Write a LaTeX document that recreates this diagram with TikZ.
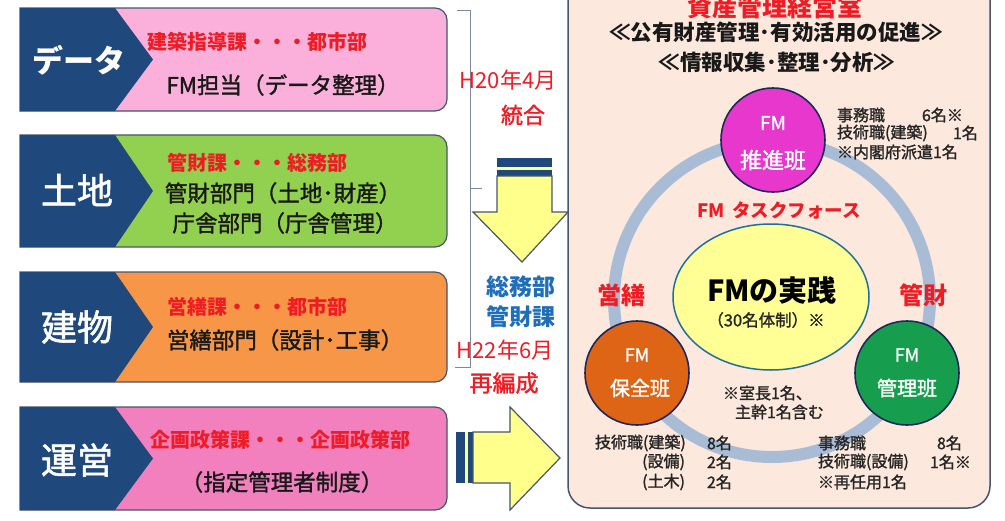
\documentclass[tikz,border=0pt]{standalone}
\usepackage{fontspec}
\setmainfont{Noto Sans CJK JP}
\newfontfamily\medf{Noto Sans CJK JP}[FakeBold=1.5]
\definecolor{navy}{RGB}{31,73,125}
\definecolor{pkA}{RGB}{250,176,218}
\definecolor{grn}{RGB}{146,208,80}
\definecolor{org}{RGB}{247,150,70}
\definecolor{pkB}{RGB}{242,128,190}
\definecolor{edgec}{RGB}{70,85,110}
\definecolor{peach}{RGB}{252,232,220}
\definecolor{ringc}{RGB}{168,188,214}
\definecolor{yel}{RGB}{255,255,150}
\definecolor{arry}{RGB}{255,255,140}
\definecolor{mag}{RGB}{232,55,205}
\definecolor{cor}{RGB}{222,100,22}
\definecolor{cgr}{RGB}{22,158,78}
\definecolor{tred}{RGB}{238,28,36}
\definecolor{tblue}{RGB}{30,110,185}
\definecolor{ylb}{RGB}{30,110,160}
\definecolor{circb}{RGB}{30,40,90}
\tikzset{
  every node/.style={inner sep=0pt, outer sep=0pt},
  fsz/.style={font=\fontsize{#1}{#1}\selectfont},
  fszb/.style={font=\fontsize{#1}{#1}\selectfont\bfseries},
  fszm/.style={font=\fontsize{#1}{#1}\medf},
  lbl/.style={text=white, fszm=36},
  redt/.style={text=tred, fszb=20},
  blkt/.style={text=black!90, fszm=22.5},
  listt/.style={text=black!85, fszm=16},
  whitet/.style={text=white},
  bigarrow/.style={fill=arry, draw=edgec, line width=1.2pt, line join=miter},
  team/.style={circle, minimum size=104pt, draw=circb, line width=1.6pt},
}
\newcommand{\rowbox}[3]{%
  \draw[edgec, line width=1.2pt, fill=#3] (20,#1) -- (300,#1) [rounded corners=12] -- (447,#1) -- (447,#2) -- (300,#2) [sharp corners] -- (20,#2) -- cycle;
  \fill[navy] (20,#1) -- (115,#1) -- (153,{(#1+#2)/2}) -- (115,#2) -- (20,#2) -- cycle;
}
\begin{document}
\begin{tikzpicture}[x=1pt,y=-1pt]
\useasboundingbox (0,0) rectangle (1005,520);
\clip (0,0) rectangle (1005,520);
\fill[white] (0,0) rectangle (1005,520);

% left rows
\rowbox{8}{111}{pkA}
\rowbox{135}{247}{grn}
\rowbox{272}{382}{org}
\rowbox{407}{510}{pkB}

\node[lbl, font=\fontsize{31}{31}\selectfont\bfseries] (l1) at (79,60) {データ};
\node[lbl] (l2) at (77,190) {土地};
\node[lbl] (l3) at (77,327) {建物};
\node[lbl] (l4) at (77,460) {運営};

\node[redt] (r1) at (257,42) {建築指導課・・・都市部};
\node[blkt] (b1) at (283,85) {FM担当（データ整理）};
\node[redt] (r2) at (257,163) {管財課・・・総務部};
\node[blkt] (b2a) at (283,193) {管財部門（土地･財産）};
\node[blkt] (b2b) at (285,223) {庁舎部門（庁舎管理）};
\node[redt] (r3) at (257,307) {営繕課・・・都市部};
\node[blkt] (b3) at (285,340) {営繕部門（設計･工事）};
\node[redt] (r4) at (280,440) {企画政策課・・・企画政策部};
\node[blkt] (b4) at (282,482) {（指定管理者制度）};

% bracket
\coordinate (bt0) at (457,10);
\coordinate (bt1) at (470,10);
\coordinate (bb1) at (470,367);
\coordinate (bb0) at (455,367);
\coordinate (bm0) at (470,188);
\coordinate (bm1) at (482,188);
\draw[edgec!70, line width=0.7pt] (bt0) -- (bt1) -- (bb1) -- (bb0);
\draw[edgec!70, line width=0.7pt] (bm0) -- (bm1);

% middle texts
\node[text=tred, fsz=22] (h20) at (508,80) {H20年4月};
\node[text=tred, fszm=22] (togo) at (523,115) {統合};
\node[text=tblue, fszb=23] (som) at (521,287) {総務部};
\node[text=tblue, fszb=23] (kan) at (521,317) {管財課};
\node[text=tred, fsz=22] (h22) at (505,350) {H22年6月};
\node[text=tred, fszm=23] (hen) at (504,383) {再編成};

% down arrow
\fill[navy] (497,158) rectangle (552,176);
\fill[arry] (497,167) rectangle (552,170);
\draw[bigarrow] (497,176) -- (552,176) -- (552,212) -- (568,212) -- (522,262) -- (473,212) -- (497,212) -- cycle;

% right arrow
\fill[navy] (456,432) rectangle (473,483);
\fill[arry] (465,432) rectangle (468,483);
\draw[bigarrow] (473,432) -- (510,432) -- (510,407) -- (560,458) -- (510,510) -- (510,483) -- (473,483) -- cycle;

% right panel
\draw[edgec, line width=1.5pt, fill=peach, rounded corners=22] (568,-30) rectangle (990,508);
\node[text=tred, fszb=25] (ttl) at (775,7) {資産管理経営室};
\node[text=black!90, fszb=21.5] (s1) at (776,32) {≪公有財産管理･有効活用の促進≫};
\node[text=black!90, fszb=21.5] (s2) at (777,62) {≪情報収集･整理･分析≫};

% ring
\draw[ringc, line width=12pt] (772,299) circle[radius=158];

% center ellipse
\draw[ylb, line width=1.5pt, fill=yel] (771,297) ellipse[x radius=98, y radius=73];
\node[text=black, fszb=29] (fmj) at (772,290) {FMの実践};
\node[text=black!85, fszm=16.5] (fm30) at (766,320) {（30名体制）※};

\node[text=tred, fszb=18.5] (tf) at (779,210) {FM\hspace{0.4em}タスクフォース};

% team circles
\node[team, fill=mag] (pc) at (773,140) {};
\node[whitet, fszm=19] (pcfm) at (773,123) {FM};
\node[whitet, fszm=22] (pcn) at (773,160) {推進班};

\node[team, fill=cor] (hc) at (637,373) {};
\node[whitet, fszm=18] (hcfm) at (637,355) {FM};
\node[whitet, fszm=20] (hcn) at (640,388) {保全班};

\node[team, fill=cgr] (kc) at (907,373) {};
\node[whitet, fszm=18] (kcfm) at (907,355) {FM};
\node[whitet, fszm=20] (kcn) at (907,388) {管理班};

\node[text=tred, fszb=24] (ei) at (621,295) {営繕};
\node[text=tred, fszb=24] (ka) at (923,295) {管財};

\node[listt, anchor=west] (n1) at (723,393) {※室長1名、};
\node[listt, anchor=west] (n2) at (735,412) {主幹1名含む};

% top-right list
\node[listt, anchor=west] (a1) at (837,115) {事務職};
\node[listt, anchor=west] (a1n) at (922,115) {6名※};
\node[listt, anchor=west] (a2) at (837,133) {技術職(建築)};
\node[listt, anchor=west] (a2n) at (953,133) {1名};
\node[listt, anchor=west] (a3) at (837,152) {※内閣府派遣1名};

% bottom-left list
\node[listt, anchor=west] (c1) at (595,443) {技術職(建築)};
\node[listt, anchor=west] (c1n) at (707,443) {8名};
\node[listt, anchor=east] (c2) at (685,462) {(設備)};
\node[listt, anchor=west] (c2n) at (707,462) {2名};
\node[listt, anchor=east] (c3) at (685,482) {(土木)};
\node[listt, anchor=west] (c3n) at (707,482) {2名};

% bottom-right list
\node[listt, anchor=west] (d1) at (818,443) {事務職};
\node[listt, anchor=west] (d1n) at (937,443) {8名};
\node[listt, anchor=west] (d2) at (818,462) {技術職(設備)};
\node[listt, anchor=west] (d2n) at (930,462) {1名※};
\node[listt, anchor=west] (d3) at (818,482) {※再任用1名};
\end{tikzpicture}
\end{document}
